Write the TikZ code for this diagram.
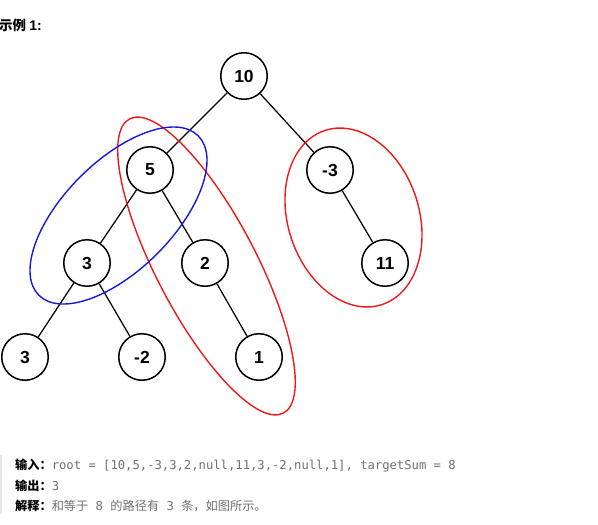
\documentclass[tikz,border=0pt]{standalone}
\usepackage{fontspec}
\setmainfont{Liberation Sans}
\newfontfamily\cjk{Noto Sans CJK SC}
\newfontfamily\monof{DejaVu Sans Mono}
\definecolor{txtgray}{RGB}{112,112,112}
\definecolor{ellred}{RGB}{238,24,24}
\definecolor{ellblue}{RGB}{24,24,220}
\definecolor{bargray}{RGB}{232,232,232}
\tikzset{
  tn/.style={circle, draw, fill=white, line width=1.5pt, minimum size=46.5pt, inner sep=0pt,
             font=\fontsize{17.5}{17.5}\selectfont\bfseries},
  edge/.style={line width=1.25pt},
  ring/.style={line width=1.4pt},
  lbl/.style={anchor=base west, inner sep=0pt, font=\fontsize{12.2}{14}\selectfont},
}
\begin{document}
\begin{tikzpicture}[x=1pt,y=-1pt]
\useasboundingbox (0,0) rectangle (598,525);

% title
\node[anchor=base west, inner sep=0pt, font=\fontsize{13.5}{15}\selectfont] (title) at (-1,30.5)
  {{\cjk\bfseries 示例 }{\fontsize{14}{15}\selectfont\bfseries 1:}};

% tree nodes
\node[tn] (n10) at (244,76) {10};
\node[tn] (n5)  at (150,170) {5};
\node[tn] (nm3) at (330,170) {-3};
\node[tn] (n3)  at (87,263) {3};
\node[tn] (n2)  at (205,263) {2};
\node[tn] (n11) at (385,263) {11};
\node[tn] (n3b) at (25,357) {3};
\node[tn] (nm2) at (142,357) {-2};
\node[tn] (n1)  at (259,357) {1};

\draw[edge] (n10) -- (n5);
\draw[edge] (n10) -- (nm3);
\draw[edge] (n5) -- (n3);
\draw[edge] (n5) -- (n2);
\draw[edge] (nm3) -- (n11);
\draw[edge] (n3) -- (n3b);
\draw[edge] (n3) -- (nm2);
\draw[edge] (n2) -- (n1);

% path ellipses
\draw[ring, ellred, rotate around={-62.4:(206.5,266)}] (206.5,266) ellipse [x radius=166pt, y radius=50pt];
\draw[ring, ellblue, rotate around={45:(118.5,215.5)}] (118.5,215.5) ellipse [x radius=112.7pt, y radius=54.4pt];
\draw[ring, ellred, rotate around={-72:(353.5,217.5)}] (353.5,217.5) ellipse [x radius=91.6pt, y radius=65.6pt];

% explanation block
\fill[bargray] (0,455) rectangle (2,514);
\node[lbl] (l1) at (15,469.5)
  {{\cjk\bfseries 输入：}{\monof\color{txtgray}root = [10,5,-3,3,2,null,11,3,-2,null,1], targetSum = 8}};
\node[lbl] (l2) at (15,490)
  {{\cjk\bfseries 输出：}{\monof\color{txtgray}3}};
\node[lbl] (l3) at (15,510)
  {{\cjk\bfseries 解释：}{\color{txtgray}\cjk 和等于{\monof{} 8 }的路径有{\monof{} 3 }条，如图所示。}};
\end{tikzpicture}
\end{document}
